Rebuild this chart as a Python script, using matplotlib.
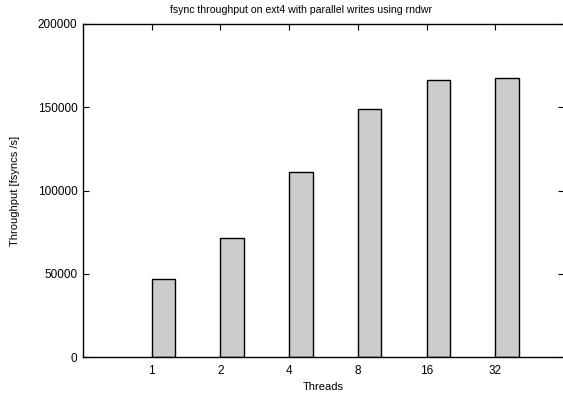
import matplotlib
matplotlib.use("Agg")
import matplotlib.pyplot as plt

plt.rcParams["font.family"] = ["Liberation Sans", "DejaVu Sans"]

# Data
threads = ["1", "2", "4", "8", "16", "32"]
throughput = [46700, 71600, 110900, 148800, 166200, 167400]

fig = plt.figure(figsize=(5.63, 3.94), dpi=100)
ax = fig.add_axes([83 / 563, 37 / 394, 481 / 563, 333 / 394])

pos = list(range(len(threads)))
ax.bar(pos, throughput, width=0.34, align="edge", color="#cccccc",
       edgecolor="black", linewidth=1.0, zorder=2)

ax.set_xlim(-1, 6)
ax.set_ylim(0, 200000)
ax.set_xticks(pos)
ax.set_xticklabels(threads)
ax.set_yticks([0, 50000, 100000, 150000, 200000])
ax.tick_params(direction="in", length=4, width=0.8, top=True, right=True,
               labelsize=8.5)
ax.tick_params(axis="y", pad=4)
ax.tick_params(axis="x", pad=6)
for s in ax.spines.values():
    s.set_linewidth(1.0)

ax.set_xlabel("Threads", fontsize=8, labelpad=3)
ax.set_ylabel("Throughput [fsyncs /s]", fontsize=8, labelpad=13)
fig.text(301 / 563, 1 - 10 / 394,
         "fsync throughput on ext4 with parallel writes using rndwr",
         fontsize=7.6, ha="center", va="center")

fig.savefig("out.png", dpi=100)
